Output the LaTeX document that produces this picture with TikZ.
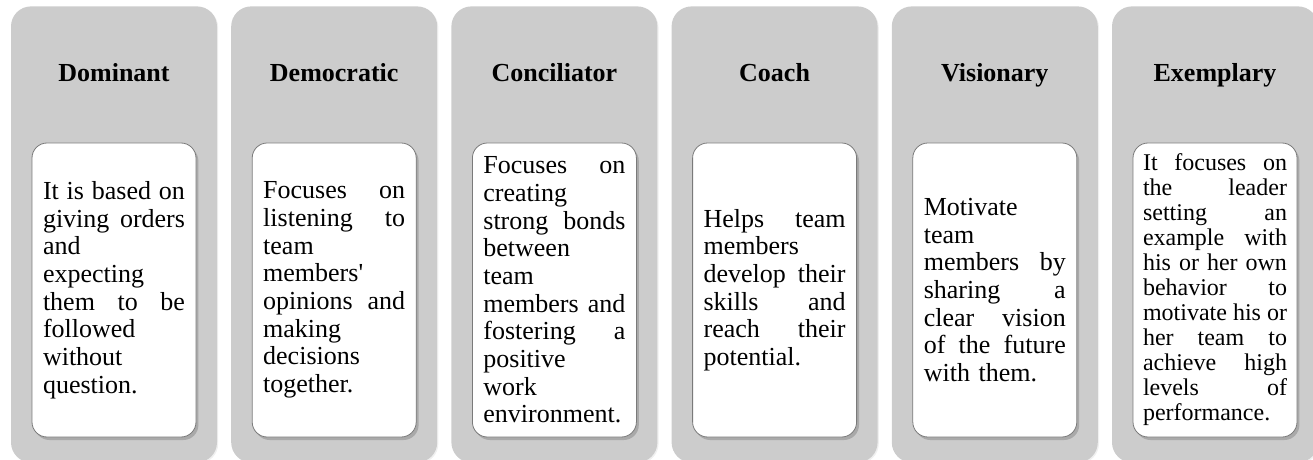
\documentclass[tikz,border=0pt]{standalone}
\usepackage{fontspec}
\setmainfont{Liberation Serif}
\usetikzlibrary{shadows}
\definecolor{colgrey}{HTML}{CCCCCC}
\definecolor{boxline}{HTML}{7A7A7A}
\newcommand{\jline}[2][71pt]{\makebox[#1][s]{\spaceskip=0.25em plus 1fil minus 0.1em\relax#2}}
\tikzset{
 colbox/.style={fill=colgrey,rounded corners=10pt,minimum width=103pt,minimum height=228pt,
  anchor=north,inner sep=0pt,drop shadow={shadow xshift=0.6pt,shadow yshift=-0.6pt,opacity=0.12}},
 titletext/.style={anchor=base,inner sep=0pt,font=\fontsize{13}{15}\selectfont\bfseries},
 descbox/.style={draw=boxline,fill=white,rounded corners=7.5pt,minimum width=82pt,minimum height=147pt,
  text width=71pt,inner xsep=5.5pt,inner ysep=0pt,align=left,font=\fontsize{13}{13.85}\selectfont,
  drop shadow={shadow xshift=1.2pt,shadow yshift=-1.5pt,opacity=0.45}}
}

\begin{document}
\begin{tikzpicture}[x=0.5pt,y=-0.5pt]
 \useasboundingbox (0,0) rectangle (1313,460);
 \clip (0,0) rectangle (1313,460);
 \begin{scope}[shift={(0,0)}]
  \node[colbox] (colDom) at (114,6) {};
  \node[titletext] (titleDom) at (114,82) {Dominant};
  \node[descbox] (boxDom) at (114,290) {\jline{It is based on}\\\jline{giving orders}\\and\\expecting\\\jline{them to be}\\followed\\without\\question.};
 \end{scope}
 \begin{scope}[shift={(220.2,0)}]
  \node[colbox] (colDem) at (114,6) {};
  \node[titletext] (titleDem) at (114,82) {Democratic};
  \node[descbox] (boxDem) at (114,290) {\jline{Focuses on}\\\jline{listening to}\\team\\members\textquotesingle\\\jline{opinions and}\\making\\decisions\\together.};
 \end{scope}
 \begin{scope}[shift={(440.4,0)}]
  \node[colbox] (colCon) at (114,6) {};
  \node[titletext] (titleCon) at (114,82) {Conciliator};
  \node[descbox] (boxCon) at (114,290) {\jline{Focuses on}\\creating\\\jline{strong bonds}\\between\\team\\\jline{members and}\\\jline{fostering a}\\positive\\work\\environment.};
 \end{scope}
 \begin{scope}[shift={(660.6,0)}]
  \node[colbox] (colCoa) at (114,6) {};
  \node[titletext] (titleCoa) at (114,82) {Coach};
  \node[descbox] (boxCoa) at (114,290) {\jline{Helps team}\\members\\\jline{develop their}\\\jline{skills and}\\\jline{reach their}\\potential.};
 \end{scope}
 \begin{scope}[shift={(880.8,0)}]
  \node[colbox] (colVis) at (114,6) {};
  \node[titletext] (titleVis) at (114,82) {Visionary};
  \node[descbox] (boxVis) at (114,290) {Motivate\\team\\\jline{members by}\\\jline{sharing a}\\\jline{clear vision}\\\jline{of the future}\\with them.};
 \end{scope}
 \begin{scope}[shift={(1101,0)}]
  \node[colbox] (colExe) at (114,6) {};
  \node[titletext] (titleExe) at (114,82) {Exemplary};
  \node[descbox,text width=72pt,inner xsep=5pt,font=\fontsize{12}{12.5}\selectfont] (boxExe) at (114,290) {\jline[72pt]{It focuses on}\\\jline[72pt]{the leader}\\\jline[72pt]{setting an}\\\jline[72pt]{example with}\\\jline[72pt]{his or her own}\\\jline[72pt]{behavior to}\\\jline[72pt]{motivate his or}\\\jline[72pt]{her team to}\\\jline[72pt]{achieve high}\\\jline[72pt]{levels of}\\performance.};
 \end{scope}
\end{tikzpicture}
\end{document}
